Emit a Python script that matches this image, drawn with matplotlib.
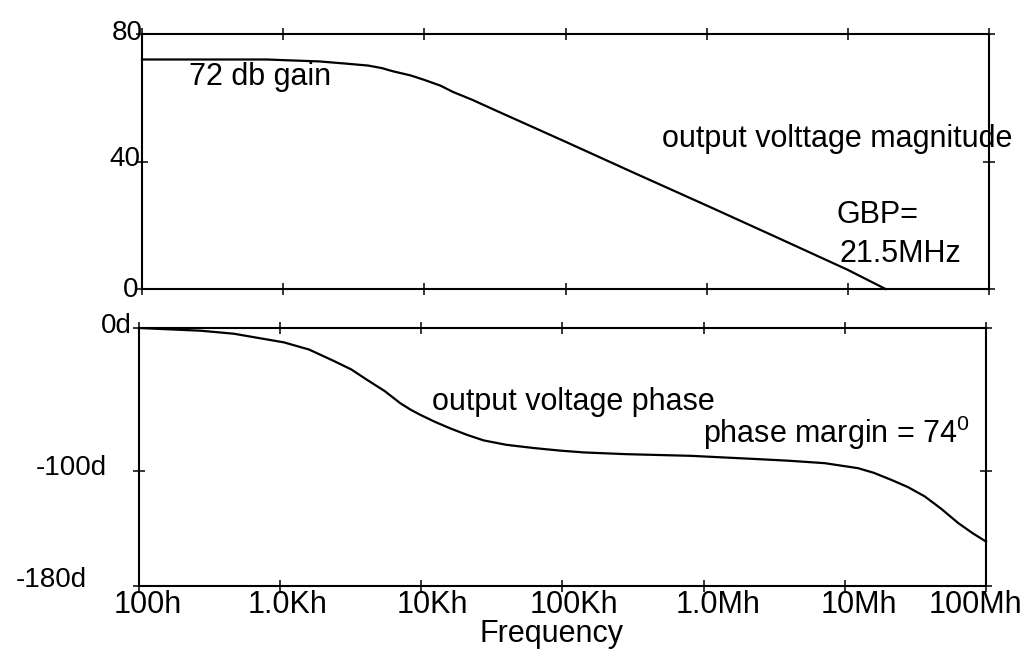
"""Bode plot of the op-amp output voltage: magnitude and phase."""

import matplotlib.pyplot as plt
import matplotlib.ticker as mticker

plt.rcParams["font.family"] = ["Liberation Sans", "DejaVu Sans"]
plt.rcParams["mathtext.fontset"] = "custom"
plt.rcParams["mathtext.rm"] = "Liberation Sans"

# magnitude response (Hz, dB)
freq_mag = [100, 300, 770, 1.0e3, 1.8e3, 2.8e3, 4.0e3, 5.0e3, 6.0e3, 8.0e3,
            1.0e4, 1.3e4, 1.6e4, 2.2e4, 3.4e4, 1.0e5, 3.0e5, 1.0e6, 3.0e6,
            1.0e7, 1.85e7]
gain_db = [72.0, 72.0, 72.0, 71.8, 71.4, 70.7, 70.1, 69.3, 68.3, 67.0,
           65.6, 63.8, 61.8, 59.3, 55.5, 46.2, 36.6, 26.2, 16.6,
           6.0, 0.0]

# phase response (Hz, degrees)
freq_ph = [100, 274, 470, 1.06e3, 1.6e3, 2.4e3, 3.2e3, 4.1e3, 5.5e3, 7.1e3,
           8.4e3, 9.8e3, 1.25e4, 1.6e4, 2.1e4, 2.76e4, 4.0e4, 6.2e4, 9.5e4,
           1.41e5, 2.78e5, 8.2e5, 2.44e6, 4.0e6, 7.2e6, 1.24e7, 1.6e7,
           2.14e7, 2.8e7, 3.68e7, 4.8e7, 6.34e7, 8.0e7, 1.0e8]
phase_deg = [0, -1.9, -4, -10, -15, -23, -29, -36, -44, -52.5,
             -57, -60.5, -65.5, -70, -74.5, -78.4, -81.5, -83.7, -85.5,
             -86.8, -88, -89.2, -91.5, -92.6, -94.3, -97.8, -101,
             -106, -111, -117.5, -126, -136, -143, -149]

x_ticks = [1e2, 1e3, 1e4, 1e5, 1e6, 1e7, 1e8]
x_labels = ["100h", "1.0Kh", "10Kh", "100Kh", "1.0Mh", "10Mh", "100Mh"]
x_label_dx = [9, 7, 11, 11, 14, 14, -11]

# (dx right, dy down) of each label's right edge / baseline from its tick
mag_ticks = [80, 40, 0]
mag_labels = ["80", "40", "0"]
mag_label_dxy = [(1, 6), (-2, 5), (-4, 8)]

ph_ticks = [0, -100, -180]
ph_labels = ["0d", "-100d", "-180d"]
ph_label_dxy = [(-7, 5), (-32, 4), (-52, 1)]

FS = 22

fig = plt.figure(figsize=(10.31, 6.56), dpi=100)
ax_m = fig.add_axes([142 / 1031, 1 - 289 / 656, 847 / 1031, 255 / 656])
ax_p = fig.add_axes([139 / 1031, 1 - 586 / 656, 847 / 1031, 258 / 656])


def style_axes(ax, yticks):
    ax.set_xscale("log")
    ax.set_xlim(1e2, 1e8)
    ax.xaxis.set_major_locator(mticker.FixedLocator(x_ticks))
    ax.xaxis.set_minor_locator(mticker.NullLocator())
    ax.set_yticks(yticks)
    ax.tick_params(which="both", direction="inout", length=8, width=1.1,
                   top=True, right=True, labelleft=False, labelbottom=False)
    for s in ax.spines.values():
        s.set_linewidth(1.5)


style_axes(ax_m, mag_ticks)
ax_m.set_ylim(0, 80)
style_axes(ax_p, ph_ticks)
ax_p.set_ylim(-180, 0)

ax_m.plot(freq_mag, gain_db, color="black", lw=1.6, clip_on=False)
ax_p.plot(freq_ph, phase_deg, color="black", lw=1.6, clip_on=False)

# y tick labels, placed by hand so they sit over the spine like the plotter output
for v, lab, (dx, dy) in zip(mag_ticks, mag_labels, mag_label_dxy):
    ax_m.annotate(lab, xy=(0, v), xycoords=("axes fraction", "data"),
                  xytext=(dx, -dy), textcoords="offset pixels",
                  ha="right", va="baseline", fontsize=20)
for v, lab, (dx, dy) in zip(ph_ticks, ph_labels, ph_label_dxy):
    ax_p.annotate(lab, xy=(0, v), xycoords=("axes fraction", "data"),
                  xytext=(dx, -dy), textcoords="offset pixels",
                  ha="right", va="baseline", fontsize=20)

for f, lab, dx in zip(x_ticks, x_labels, x_label_dx):
    ax_p.annotate(lab, xy=(f, 0), xycoords=("data", "axes fraction"),
                  xytext=(dx, -27), textcoords="offset pixels",
                  ha="center", va="baseline", fontsize=FS)

fig.text(552 / 1031, 1 - 642 / 656, "Frequency", ha="center", va="baseline",
         fontsize=FS)

# annotations
ax_m.text(215, 64.0, "72 db gain", fontsize=FS, va="baseline")
ax_m.text(4.82e5, 44.5, "output volttage magnitude", fontsize=FS,
          va="baseline")
ax_m.text(8.37e6, 20.7, "GBP=", fontsize=FS, va="baseline")
ax_m.text(8.79e6, 8.5, "21.5MHz", fontsize=FS, va="baseline")
ax_p.text(1.19e4, -57.2, "output voltage phase", fontsize=FS, va="baseline")
ax_p.text(9.89e5, -80.2, r"phase margin = 74$^\mathregular{0}$", fontsize=FS,
          va="baseline")

fig.savefig("out.png", dpi=100)
plt.close(fig)
